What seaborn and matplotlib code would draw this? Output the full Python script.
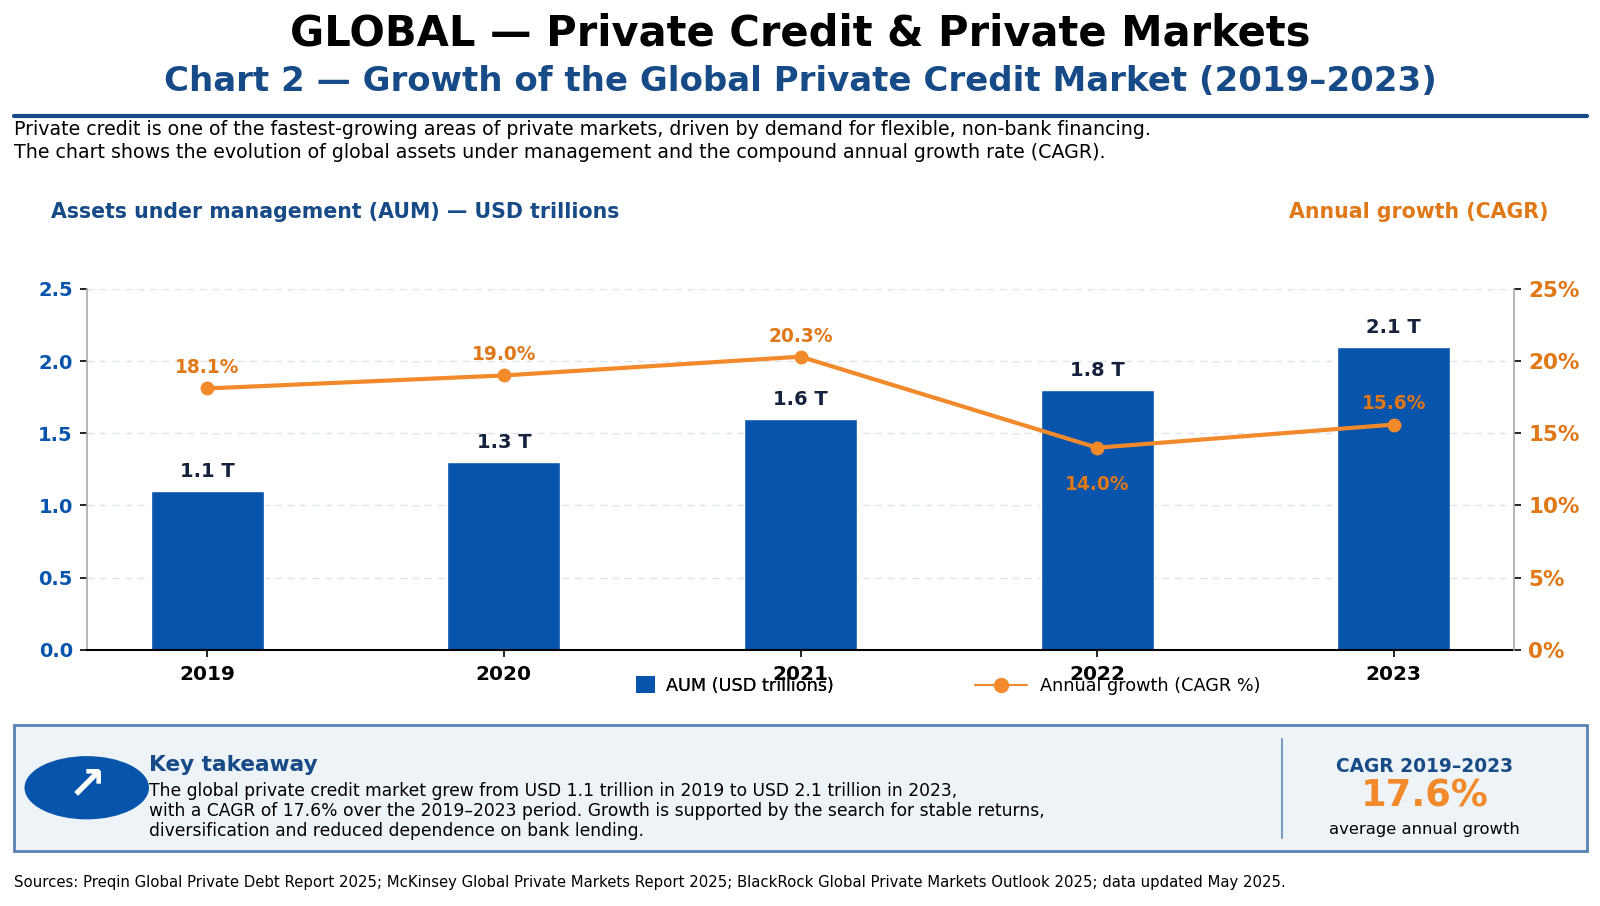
import matplotlib
matplotlib.use("Agg")
import matplotlib.pyplot as plt
import seaborn as sns
import numpy as np
import pandas as pd
from matplotlib.patches import Rectangle, Ellipse, Patch
from matplotlib.lines import Line2D

# ---- data ----
years = ["2019", "2020", "2021", "2022", "2023"]
aum = [1.1, 1.3, 1.6, 1.8, 2.1]
cagr = [18.1, 19.0, 20.3, 14.0, 15.6]
aum_ticks = [0.0, 0.5, 1.0, 1.5, 2.0, 2.5]
cagr_ticks = [0, 5, 10, 15, 20, 25]

sns.set_style("white")
plt.rcParams["font.family"] = ["DejaVu Sans"]
plt.rcParams["text.color"] = "black"

BLUE_BAR = "#0754AC"
NAVY = "#16213E"
TITLE_BLUE = "#174B87"
ORANGE_LINE = "#F28A2B"
ORANGE_TXT = "#E07818"

# layout reference grid (1568 x 888 units spanning the figure)
GW, GH = 1568.0, 887.9
fig = plt.figure(figsize=(16, 9.06), dpi=100)

def fx(px):
    return px / GW

def fy(py):
    return 1 - py / GH

# ---- header ----
fig.text(0.5, fy(33), "GLOBAL — Private Credit & Private Markets", ha="center", va="center",
         fontsize=30, fontweight="bold", color="black")
fig.text(0.5, fy(80), "Chart 2 — Growth of the Global Private Credit Market (2019–2023)", ha="center",
         va="center", fontsize=24.5, fontweight="bold", color=TITLE_BLUE)
fig.add_artist(Line2D([fx(14), fx(1555)], [fy(113.5), fy(113.5)], transform=fig.transFigure,
                      color=TITLE_BLUE, lw=3))
fig.text(fx(14), fy(127), "Private credit is one of the fastest-growing areas of private markets, driven by demand for flexible, non-bank financing.",
         ha="left", va="center", fontsize=13.65, color="black")
fig.text(fx(14), fy(149), "The chart shows the evolution of global assets under management and the compound annual growth rate (CAGR).",
         ha="left", va="center", fontsize=13.65, color="black")

fig.text(fx(50), fy(208), "Assets under management (AUM) — USD trillions", ha="left", va="center",
         fontsize=14.8, fontweight="bold", color=TITLE_BLUE)
fig.text(fx(1518), fy(208), "Annual growth (CAGR)", ha="right", va="center",
         fontsize=14.8, fontweight="bold", color=ORANGE_TXT)

# ---- main chart ----
ax = fig.add_axes([fx(85), fy(637), fx(1484) - fx(85), fy(283) - fy(637)])
df = pd.DataFrame({"year": years, "aum": aum, "cagr": cagr})
sns.barplot(data=df, x="year", y="aum", ax=ax, color=BLUE_BAR, width=0.38, saturation=1, zorder=2)
ax.set_xlim(-0.406, 4.406)
ax.set_ylim(0, 2.5)
ax.set_yticks(aum_ticks)
ax.set_yticklabels([f"{t:.1f}" for t in aum_ticks])
ax.set_xlabel("")
ax.set_ylabel("")
ax.grid(axis="y", linestyle=(0, (5, 4)), color="#DDE3EA", lw=1, zorder=0)
ax.set_axisbelow(True)
for lab in ax.get_yticklabels():
    lab.set_color(BLUE_BAR)
    lab.set_fontweight("bold")
    lab.set_fontsize(14)
for lab in ax.get_xticklabels():
    lab.set_color("black")
    lab.set_fontweight("bold")
    lab.set_fontsize(14.5)
ax.tick_params(axis="y", length=5, width=1.2, color="black", pad=5, left=True)
ax.tick_params(axis="x", length=5, width=1.2, color="black", pad=6, bottom=True)
ax.spines["top"].set_visible(False)
ax.spines["right"].set_visible(False)
ax.spines["left"].set_color("#AAAAAA")
ax.spines["left"].set_linewidth(1.2)
ax.spines["bottom"].set_color("black")
ax.spines["bottom"].set_linewidth(1.5)

for i, v in enumerate(aum):
    ax.annotate(f"{v:.1f} T", xy=(i, v), xytext=(0, 7), textcoords="offset points",
                ha="center", va="bottom", fontsize=14, fontweight="bold", color=NAVY)

ax2 = ax.twinx()
sns.lineplot(x=np.arange(len(years)), y=cagr, ax=ax2, color=ORANGE_LINE, lw=3,
             marker="o", markersize=10, markeredgewidth=0, zorder=3)
ax2.set_ylim(0, 25)
ax2.set_yticks(cagr_ticks)
ax2.set_yticklabels([f"{t}%" for t in cagr_ticks])
for lab in ax2.get_yticklabels():
    lab.set_color(ORANGE_TXT)
    lab.set_fontweight("bold")
    lab.set_fontsize(15.5)
ax2.tick_params(axis="y", length=5, width=1.2, color="black", pad=5, right=True)
ax2.spines["top"].set_visible(False)
ax2.spines["left"].set_visible(False)
ax2.spines["bottom"].set_visible(False)
ax2.spines["right"].set_color("#AAAAAA")
ax2.spines["right"].set_linewidth(1.2)
ax2.grid(False)
ax2.set_ylabel("")

for i, v in enumerate(cagr):
    if i == 3:
        ax2.annotate(f"{v:.1f}%", xy=(i, v), xytext=(0, -20), textcoords="offset points",
                     ha="center", va="top", fontsize=13.4, fontweight="bold", color=ORANGE_TXT)
    else:
        ax2.annotate(f"{v:.1f}%", xy=(i, v), xytext=(0, 8), textcoords="offset points",
                     ha="center", va="bottom", fontsize=13.4, fontweight="bold", color=ORANGE_TXT)

# ---- legend ----
leg1 = fig.legend(handles=[Patch(facecolor=BLUE_BAR, edgecolor="none", label="AUM (USD trillions)")],
                  loc="center", bbox_to_anchor=(fx(720), fy(672)), frameon=False, fontsize=12.7,
                  handlelength=1.1, handleheight=1.1, handletextpad=0.6, labelcolor="black")
leg2 = fig.legend(handles=[Line2D([], [], color=ORANGE_LINE, lw=1.5, marker="o", markersize=11,
                                  markeredgewidth=0, label="Annual growth (CAGR %)")],
                  loc="center", bbox_to_anchor=(fx(1095), fy(672)), frameon=False, fontsize=12.7,
                  handlelength=3.0, handletextpad=0.7, labelcolor="black")
fig.add_artist(leg1)

# ---- takeaway box ----
fig.add_artist(Rectangle((fx(14), fy(834)), fx(1555) - fx(14), fy(711) - fy(834),
                         transform=fig.transFigure, facecolor="#EEF3F8", edgecolor="#5A82B5", lw=2))
fig.add_artist(Ellipse((fx(85), fy(772)), fx(122), 62 / GH, transform=fig.transFigure,
                       facecolor=BLUE_BAR, edgecolor="none"))
fig.text(fx(85), fy(770), "↗", ha="center", va="center", fontsize=33, fontweight="bold", color="white")
fig.text(fx(146), fy(750), "Key takeaway", ha="left", va="center", fontsize=15.6,
         fontweight="bold", color=TITLE_BLUE)
body = ["The global private credit market grew from USD 1.1 trillion in 2019 to USD 2.1 trillion in 2023,",
        "with a CAGR of 17.6% over the 2019–2023 period. Growth is supported by the search for stable returns,",
        "diversification and reduced dependence on bank lending."]
for k, line in enumerate(body):
    fig.text(fx(146), fy(775 + 19.5 * k), line, ha="left", va="center", fontsize=12.3, color="black")

fig.add_artist(Line2D([fx(1256), fx(1256)], [fy(724), fy(821)], transform=fig.transFigure,
                      color="#7A9CC6", lw=1.5))
fig.text(fx(1396), fy(751), "CAGR 2019–2023", ha="center", va="center", fontsize=13.4,
         fontweight="bold", color=TITLE_BLUE)
fig.text(fx(1396), fy(780), "17.6%", ha="center", va="center", fontsize=26.6,
         fontweight="bold", color=ORANGE_LINE)
fig.text(fx(1396), fy(813), "average annual growth", ha="center", va="center", fontsize=11.8,
         color="black")

fig.text(fx(14), fy(865), "Sources: Preqin Global Private Debt Report 2025; McKinsey Global Private Markets Report 2025; BlackRock Global Private Markets Outlook 2025; data updated May 2025.",
         ha="left", va="center", fontsize=10.7, color="black")

fig.savefig("out.png", dpi=100, facecolor="white")
